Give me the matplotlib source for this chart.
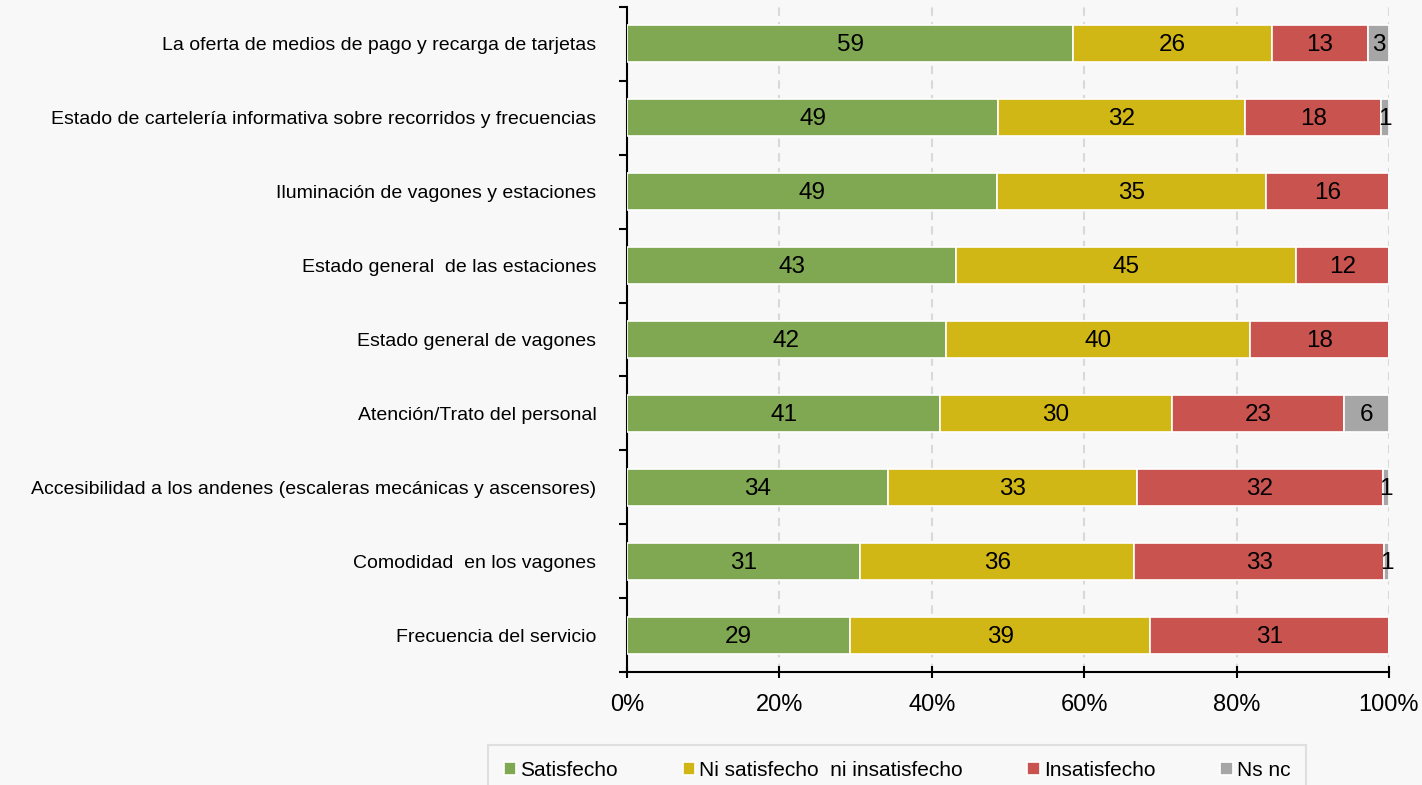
import matplotlib
matplotlib.use("Agg")
import matplotlib.pyplot as plt
import numpy as np

plt.rcParams['font.family'] = ['Liberation Sans', 'DejaVu Sans']

categorias = [
    "La oferta de medios de pago y recarga de tarjetas",
    "Estado de cartelería informativa sobre recorridos y frecuencias",
    "Iluminación de vagones y estaciones",
    "Estado general  de las estaciones",
    "Estado general de vagones",
    "Atención/Trato del personal",
    "Accesibilidad a los andenes (escaleras mecánicas y ascensores)",
    "Comodidad  en los vagones",
    "Frecuencia del servicio",
]
satisfecho   = [58.6, 48.7, 48.6, 43.2, 41.8, 41.1, 34.3, 30.7, 29.3]
ni_ni        = [26.1, 32.4, 35.3, 44.6, 40.0, 30.4, 32.6, 36.0, 39.4]
insatisfecho = [12.6, 17.9, 16.1, 12.2, 18.2, 22.6, 32.3, 32.9, 31.3]
nsnc         = [2.8, 1.0, 0.0, 0.0, 0.0, 5.9, 0.8, 0.6, 0.0]

series = ["Satisfecho", "Ni satisfecho  ni insatisfecho", "Insatisfecho", "Ns nc"]
colores = ["#80A852", "#D1B715", "#C9534F", "#A6A6A6"]

data = np.array([satisfecho, ni_ni, insatisfecho, nsnc])
data = data / data.sum(axis=0) * 100

fig = plt.figure(figsize=(14.22, 7.85), dpi=100, facecolor="#F8F8F8")
ax = fig.add_axes([627/1422, 1-672/785, (1389-627)/1422, (672-7)/785])
ax.set_facecolor("#F8F8F8")

y = np.arange(len(categorias))
left = np.zeros(len(categorias))
for i, (nombre, col) in enumerate(zip(series, colores)):
    vals = data[i]
    ax.barh(y, vals, left=left, height=0.5, color=col, edgecolor="white",
            linewidth=1.2, label=nombre, zorder=3)
    for yy, l, v in zip(y, left, vals):
        if v > 0:
            ax.text(l + v/2, yy + 0.02, f"{v:.0f}", ha="center", va="center",
                    fontsize=17.5, color="black", zorder=4)
    left += vals

ax.set_xlim(0, 100)
ax.set_ylim(len(categorias) - 0.5, -0.5)
ax.set_yticks(y)
ax.set_yticklabels(categorias, fontsize=14)
ax.set_yticks(np.arange(-0.5, len(categorias)), minor=True)
ax.tick_params(axis='y', which='major', length=0, pad=22)
ax.tick_params(axis='y', which='minor', length=6, width=1.5, direction='out')
ax.set_xticks([0, 20, 40, 60, 80, 100])
ax.set_xticklabels([f"{t}%" for t in [0, 20, 40, 60, 80, 100]], fontsize=17)
ax.tick_params(axis='x', length=8, width=1.5, direction='inout', pad=12)

ax.grid(axis='x', color="#D9D9D9", linestyle=(0, (4, 3)), linewidth=1.5, zorder=0)
for s in ["top", "right"]:
    ax.spines[s].set_visible(False)
for s in ["left", "bottom"]:
    ax.spines[s].set_linewidth(1.5)

leg = fig.legend(loc="upper center", bbox_to_anchor=(897/1422, 1-745/785), ncol=4,
                 fontsize=15, frameon=True, fancybox=False, edgecolor="#D9D9D9",
                 facecolor="#F8F8F8", handlelength=0.6, handleheight=0.6,
                 handletextpad=0.2, columnspacing=3.1, borderpad=0.75,
                 borderaxespad=0)
leg.get_frame().set_linewidth(1.5)

fig.savefig("out.png", dpi=100, facecolor=fig.get_facecolor())
